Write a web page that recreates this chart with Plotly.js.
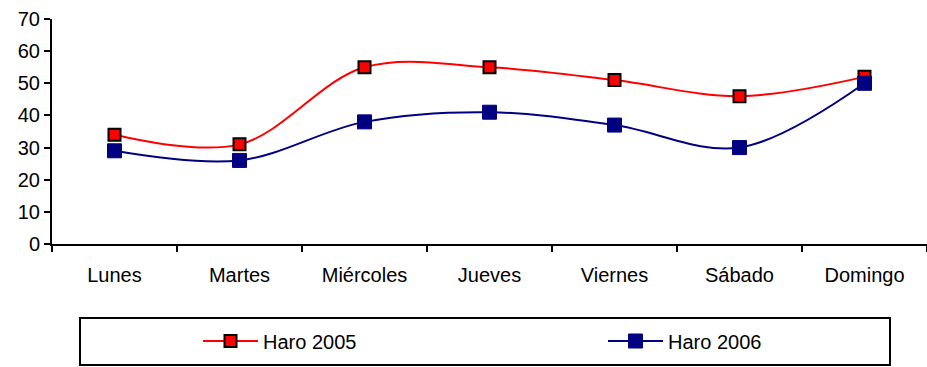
<!DOCTYPE html>
<html>
<head>
<meta charset="utf-8">
<script src="https://cdn.plot.ly/plotly-3.0.1.min.js"></script>
<style>html,body{margin:0;padding:0;background:#fff;}#chart{width:927px;height:367px;}</style>
</head>
<body>
<div id="chart"></div>
<script>
const days = ["Lunes", "Martes", "Miércoles", "Jueves", "Viernes", "Sábado", "Domingo"];
const haro2005 = [34, 31, 55, 55, 51, 46, 52];
const haro2006 = [29, 26, 38, 41, 37, 30, 50];
const seriesNames = ["Haro 2005", "Haro 2006"];
const yTicks = [0, 10, 20, 30, 40, 50, 60, 70];

const traces = [
  {
    x: days, y: haro2005, name: seriesNames[0], type: "scatter", mode: "lines+markers", legend: "legend",
    line: {color: "#ff0000", width: 2, shape: "spline", smoothing: 1},
    marker: {symbol: "square", size: 12, color: "#ff0000", line: {color: "#000000", width: 2}}
  },
  {
    x: days, y: haro2006, name: seriesNames[1], type: "scatter", mode: "lines+markers", legend: "legend2",
    line: {color: "#000080", width: 2, shape: "spline", smoothing: 1},
    marker: {symbol: "square", size: 14, color: "#000080", line: {color: "#000080", width: 1}}
  }
];

const PW = 875, PH = 225;
const FONT = '"Liberation Sans", Arial, sans-serif';
const legendCommon = {
  orientation: "h", xanchor: "left", yanchor: "middle",
  bgcolor: "rgba(0,0,0,0)", borderwidth: 0, itemwidth: 55,
  font: {family: FONT, size: 20, color: "#000"}
};

const layout = {
  width: 927, height: 367,
  margin: {l: 52, r: 0, t: 19, b: 123, autoexpand: false},
  paper_bgcolor: "#ffffff", plot_bgcolor: "#ffffff",
  font: {family: FONT, size: 20, color: "#000"},
  showlegend: true,
  legend: Object.assign({}, legendCommon, {x: (198 - 52) / PW, y: -(341 - 244) / PH}),
  legend2: Object.assign({}, legendCommon, {x: (603 - 52) / PW, y: -(341 - 244) / PH}),
  xaxis: {
    type: "category", range: [-0.5, 6.5], showgrid: false, zeroline: false,
    showline: true, linecolor: "#000", linewidth: 2,
    ticks: "outside", tickson: "boundaries", ticklen: 6, tickcolor: "#000", tickwidth: 2,
    ticklabelstandoff: 12,
    tickfont: {family: FONT, size: 20, color: "#000"}, fixedrange: true
  },
  yaxis: {
    range: [0, 70], tickvals: yTicks, showgrid: false, zeroline: false,
    showline: true, linecolor: "#000", linewidth: 2,
    ticks: "outside", ticklen: 6, tickcolor: "#000", tickwidth: 2,
    tickfont: {family: FONT, size: 20, color: "#000"}, fixedrange: true
  },
  shapes: [
    {type: "rect", xref: "paper", yref: "paper",
     x0: (80 - 52) / PW, x1: (890 - 52) / PW,
     y0: -(318 - 244) / PH, y1: -(365 - 244) / PH,
     line: {color: "#000", width: 2}, fillcolor: "rgba(0,0,0,0)"}
  ]
};

Plotly.newPlot("chart", traces, layout, {displayModeBar: false, staticPlot: true});
</script>
</body>
</html>
